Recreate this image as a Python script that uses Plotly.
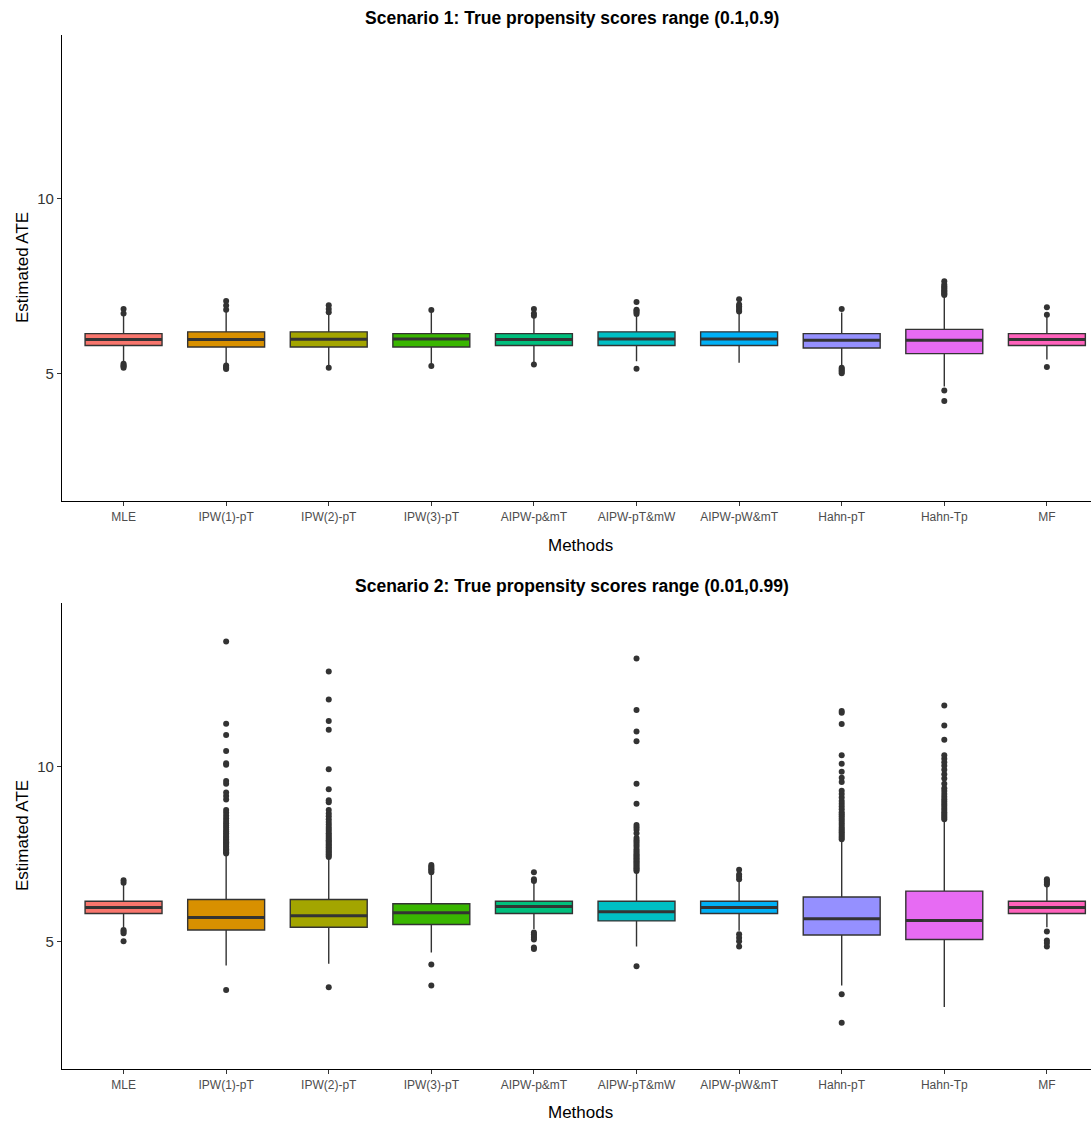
import plotly.graph_objects as go

# Methods compared and their fill colours
methods = ["MLE", "IPW(1)-pT", "IPW(2)-pT", "IPW(3)-pT", "AIPW-p&mT",
           "AIPW-pT&mW", "AIPW-pW&mT", "Hahn-pT", "Hahn-Tp", "MF"]
colors = ["#F8766D", "#D89000", "#A3A500", "#39B600", "#00BF7D",
          "#00BFC4", "#00B0F6", "#9590FF", "#E76BF3", "#FF62BC"]

# Scenario 1: true propensity scores in (0.1, 0.9)
s1_q1 = [5.81, 5.77, 5.77, 5.77, 5.81, 5.81, 5.81, 5.74, 5.58, 5.81]
s1_median = [5.98, 5.98, 5.99, 6.00, 5.98, 6.00, 6.00, 5.96, 5.96, 5.98]
s1_q3 = [6.15, 6.20, 6.20, 6.15, 6.15, 6.20, 6.20, 6.15, 6.27, 6.15]
s1_lower = [5.36, 5.30, 5.25, 5.26, 5.32, 5.36, 5.32, 5.25, 4.64, 5.41]
s1_upper = [6.67, 6.78, 6.72, 6.80, 6.63, 6.68, 6.75, 6.75, 7.20, 6.66]
s1_outliers = [
    [6.85, 6.72, 5.29, 5.25, 5.22, 5.18],
    [7.08, 6.95, 6.83, 5.24, 5.20, 5.17, 5.14],
    [6.96, 6.85, 6.76, 5.18],
    [6.82, 5.23],
    [6.85, 6.72, 6.66, 5.27],
    [7.05, 6.83, 6.80, 6.76, 6.71, 5.15],
    [7.13, 6.98, 6.93, 6.88, 6.82, 6.78],
    [6.85, 5.18, 5.14, 5.10, 5.06, 5.02],
    [7.64, 7.55, 7.50, 7.46, 7.42, 7.38, 7.35, 7.31, 7.28, 7.25, 4.53, 4.23],
    [6.90, 6.69, 5.20],
]

# Scenario 2: true propensity scores in (0.01, 0.99)
s2_q1 = [5.81, 5.34, 5.42, 5.50, 5.81, 5.60, 5.81, 5.20, 5.07, 5.81]
s2_median = [5.98, 5.70, 5.75, 5.83, 6.01, 5.86, 5.98, 5.66, 5.61, 5.98]
s2_q3 = [6.16, 6.21, 6.21, 6.09, 6.16, 6.16, 6.16, 6.28, 6.45, 6.16]
s2_lower = [5.42, 4.33, 4.38, 4.70, 5.37, 4.87, 5.32, 3.76, 3.15, 5.42]
s2_upper = [6.65, 7.49, 7.39, 6.96, 6.68, 6.99, 6.75, 7.90, 8.47, 6.62]
s2_outliers = [
    [6.76, 6.69, 5.34, 5.30, 5.25, 5.02],
    [7.52, 7.56, 7.60, 7.64, 7.68, 7.72, 7.76, 7.80, 7.84, 7.88, 7.92, 7.96,
     8.00, 8.05, 8.10, 8.15, 8.20, 8.26, 8.32, 8.38, 8.45, 8.52, 8.60, 8.68,
     8.76, 9.06, 9.16, 9.26, 9.51, 9.59, 10.05, 10.09, 10.44, 10.90, 11.22,
     13.56, 3.63],
    [7.42, 7.46, 7.50, 7.54, 7.58, 7.62, 7.66, 7.70, 7.74, 7.78, 7.82, 7.86,
     7.90, 7.95, 8.00, 8.05, 8.10, 8.16, 8.22, 8.28, 8.35, 8.42, 8.50, 8.58,
     8.66, 8.76, 8.98, 9.04, 9.35, 9.92, 11.05, 11.30, 11.91, 12.71, 3.71],
    [7.19, 7.15, 7.11, 7.07, 7.03, 6.99, 4.36, 3.76],
    [6.99, 6.79, 6.74, 5.27, 5.22, 5.17, 5.12, 5.07, 4.84, 4.80],
    [7.02, 7.06, 7.10, 7.14, 7.18, 7.22, 7.26, 7.30, 7.34, 7.38, 7.42, 7.46,
     7.50, 7.55, 7.60, 7.65, 7.72, 7.78, 7.84, 7.90, 7.96, 8.10, 8.20, 8.27,
     8.33, 8.94, 9.51, 10.72, 11.00, 11.61, 13.08, 4.31],
    [7.06, 6.92, 6.86, 6.79, 5.22, 5.12, 5.02, 4.87],
    [7.93, 7.98, 8.03, 8.08, 8.13, 8.18, 8.23, 8.28, 8.34, 8.40, 8.46, 8.52,
     8.58, 8.64, 8.70, 8.78, 8.86, 8.94, 9.02, 9.12, 9.22, 9.31, 9.56, 9.68,
     9.85, 10.08, 10.32, 11.21, 11.53, 11.58, 3.51, 2.70],
    [8.50, 8.55, 8.60, 8.65, 8.70, 8.76, 8.82, 8.88, 8.94, 9.00, 9.07, 9.14,
     9.22, 9.30, 9.38, 9.51, 9.66, 9.78, 9.91, 10.02, 10.12, 10.22, 10.32,
     10.76, 11.17, 11.74],
    [6.79, 6.74, 6.69, 6.64, 5.30, 5.04, 4.97, 4.87],
]

titles = ["<b>Scenario 1: True propensity scores range (0.1,0.9)</b>",
          "<b>Scenario 2: True propensity scores range (0.01,0.99)</b>"]

W, H = 1091, 1124
FONT = "Liberation Sans, Arial, sans-serif"
INK = "#333333"
BOX_W = 0.75

panels = [
    (s1_q1, s1_median, s1_q3, s1_lower, s1_upper, s1_outliers, "x", "y"),
    (s2_q1, s2_median, s2_q3, s2_lower, s2_upper, s2_outliers, "x2", "y2"),
]

fig = go.Figure()
for q1, med, q3, lo, hi, outs, xa, ya in panels:
    for i, name in enumerate(methods):
        fig.add_trace(go.Box(
            x=[i], q1=[q1[i]], median=[med[i]], q3=[q3[i]],
            lowerfence=[lo[i]], upperfence=[hi[i]],
            width=BOX_W, whiskerwidth=0,
            fillcolor=colors[i], line=dict(color=INK, width=1.4),
            boxpoints=False, name=name, showlegend=False,
            xaxis=xa, yaxis=ya, hoverinfo="skip",
        ))
    # thick median bars drawn over the boxes
    mx, my = [], []
    for i in range(len(methods)):
        mx += [i - BOX_W / 2, i + BOX_W / 2, None]
        my += [med[i], med[i], None]
    fig.add_trace(go.Scatter(
        x=mx, y=my, mode="lines", line=dict(color=INK, width=3),
        showlegend=False, xaxis=xa, yaxis=ya, hoverinfo="skip",
    ))
    # outlying estimates
    ox, oy = [], []
    for i, vals in enumerate(outs):
        ox += [i] * len(vals)
        oy += vals
    fig.add_trace(go.Scatter(
        x=ox, y=oy, mode="markers",
        marker=dict(color=INK, size=6, line=dict(width=0)),
        showlegend=False, xaxis=xa, yaxis=ya, hoverinfo="skip",
    ))

def ypx(p):
    return 1 - p / H

xaxis_common = dict(
    range=[-0.6, 9.43], tickmode="array", tickvals=list(range(len(methods))),
    ticktext=methods, showline=True, linecolor="black", linewidth=1.2,
    ticks="outside", ticklen=4, tickcolor=INK, tickwidth=1.1,
    tickfont=dict(family=FONT, size=12, color="#4D4D4D"),
    showgrid=False, zeroline=False, domain=[0, 1],
)
yaxis_common = dict(
    range=[1.38, 14.66], tickmode="array", tickvals=[5, 10],
    showline=True, linecolor="black", linewidth=1.2,
    ticks="outside", ticklen=4, tickcolor=INK, tickwidth=1.1,
    tickfont=dict(family=FONT, size=15, color="#333333"),
    showgrid=False, zeroline=False,
)

fig.update_layout(
    width=W, height=H,
    margin=dict(l=62, r=0, t=0, b=0),
    paper_bgcolor="white", plot_bgcolor="white",
    boxmode="overlay",
    xaxis=dict(**xaxis_common, anchor="y"),
    yaxis=dict(**yaxis_common, anchor="x", domain=[ypx(501), ypx(35)]),
    xaxis2=dict(**xaxis_common, anchor="y2"),
    yaxis2=dict(**yaxis_common, anchor="x2", domain=[ypx(1069), ypx(603)]),
)

plot_w = W - 62
def xpaper(px):
    return (px - 62) / plot_w

ann = []
for title, ty, my_, ay in [(titles[0], 18, 545, 268), (titles[1], 586, 1112, 836)]:
    ann.append(dict(text=title, x=xpaper(572), y=ypx(ty), xref="paper", yref="paper",
                    showarrow=False, xanchor="center", yanchor="middle",
                    font=dict(family=FONT, size=17.5, color="black")))
    ann.append(dict(text="Methods", x=xpaper(580), y=ypx(my_), xref="paper", yref="paper",
                    showarrow=False, xanchor="center", yanchor="middle",
                    font=dict(family=FONT, size=17, color="black")))
    ann.append(dict(text="Estimated ATE", x=xpaper(22), y=ypx(ay), xref="paper", yref="paper",
                    showarrow=False, xanchor="center", yanchor="middle", textangle=-90,
                    font=dict(family=FONT, size=17, color="black")))
fig.update_layout(annotations=ann)

fig.write_html("out.html")
